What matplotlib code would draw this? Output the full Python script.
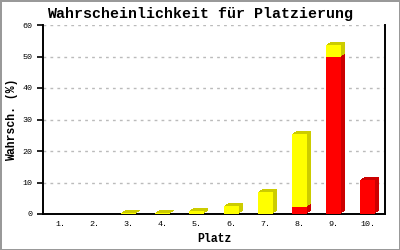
import numpy as np
import matplotlib.pyplot as plt
from matplotlib.transforms import offset_copy

places = ['1.', '2.', '3.', '4.', '5.', '6.', '7.', '8.', '9.', '10.']
red_vals = [0, 0, 0, 0, 0, 0, 0, 2.2, 50.0, 10.9]
yellow_vals = [0, 0, 0.2, 0.2, 1.0, 2.6, 7.0, 23.3, 3.8, 0]

font = ['Liberation Mono', 'DejaVu Sans Mono']

fig = plt.figure(figsize=(4, 2.5), dpi=100)
fig.patch.set_facecolor('white')
fig.patch.set_edgecolor('#999999')
fig.patch.set_linewidth(2)
ax = fig.add_axes([43/400, 36/250, 342/400, 189/250])

x = np.arange(len(places))
w = 0.44
red = np.array(red_vals)
yel = np.array(yellow_vals)

# fake 3d side: stack of shifted dark copies behind each bar
shifts = [(1, 1), (2, 2), (3, 2), (4, 3)]
for dx, dy in shifts:
    tr = offset_copy(ax.transData, fig=fig, x=dx, y=dy, units='dots')
    ax.bar(x, red, w, color='#cc0000', lw=0, transform=tr, zorder=2)
ax.bar(x, red, w, color='#ff0000', lw=0, zorder=3)
for dx, dy in shifts:
    tr = offset_copy(ax.transData, fig=fig, x=dx, y=dy, units='dots')
    ax.bar(x, yel, w, bottom=red, color='#cccc00', lw=0, transform=tr, zorder=4)
ax.bar(x, yel, w, bottom=red, color='#ffff00', lw=0, zorder=5)

ax.set_xlim(-0.5, len(places) - 0.5)
ax.set_ylim(0, 60)
ax.set_yticks(np.arange(0, 61, 10))
ax.set_xticks(x)
ax.set_xticklabels(places)
ax.yaxis.grid(True, color='#bbbbbb', linestyle=(0, (2, 3)), lw=1)
ax.set_axisbelow(True)

for s in ['left', 'bottom', 'right']:
    ax.spines[s].set_linewidth(1.4)
ax.spines['top'].set_visible(False)
ax.tick_params(axis='y', length=4, width=1.2, pad=3.5, labelsize=6)
ax.tick_params(axis='x', length=0, pad=5, labelsize=6)
for lab in ax.get_xticklabels() + ax.get_yticklabels():
    lab.set_family(font)

fig.text(0.5, 1 - 14/250, 'Wahrscheinlichkeit für Platzierung', ha='center', va='center',
         fontsize=10.8, fontweight='bold', family=font)
ax.set_ylabel('Wahrsch. (%)', fontsize=8.3, fontweight='bold', family=font, va='center')
ax.yaxis.set_label_coords(-0.091, 0.5)
ax.set_xlabel('Platz', fontsize=8.3, fontweight='bold', family=font, va='center')
ax.xaxis.set_label_coords(0.5, -0.132)

fig.savefig('out.png', dpi=100, facecolor=fig.get_facecolor(), edgecolor=fig.get_edgecolor())
